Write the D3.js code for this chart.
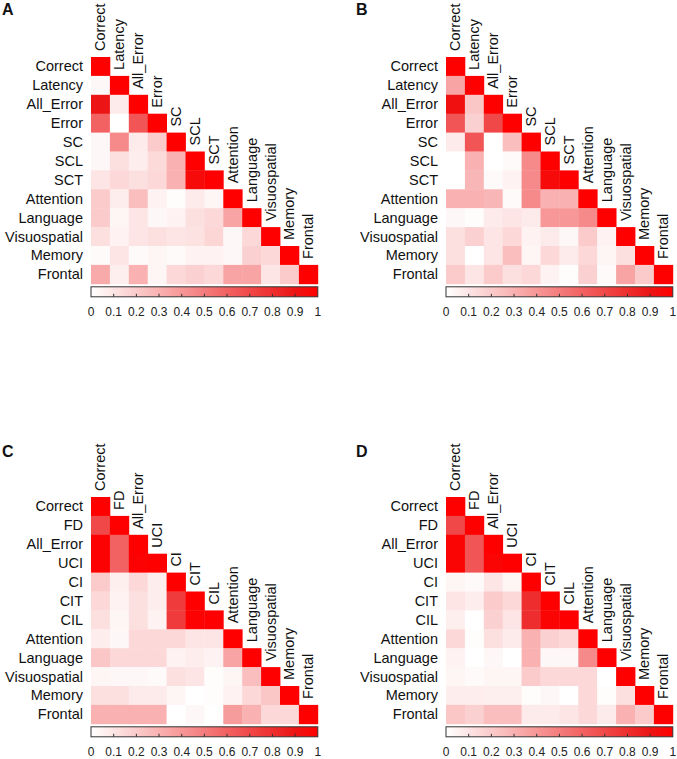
<!DOCTYPE html>
<html>
<head>
<meta charset="utf-8">
<script src="https://cdn.jsdelivr.net/npm/d3@7"></script>
<style>
  html, body { margin: 0; padding: 0; background: #fff; }
  svg { display: block; font-family: "Liberation Sans", Arial, sans-serif; }
</style>
</head>
<body>
<svg id="chart" width="677" height="759"></svg>
<script>
// ---------- DATA ----------
const varsAB = ["Correct", "Latency", "All_Error", "Error", "SC", "SCL", "SCT",
  "Attention", "Language", "Visuospatial", "Memory", "Frontal"];
const varsCD = ["Correct", "FD", "All_Error", "UCI", "CI", "CIT", "CIL",
  "Attention", "Language", "Visuospatial", "Memory", "Frontal"];

// lower-triangle rows (row i holds correlations with columns 0..i-1); diagonal = 1
const panelA = [
  [],
  [0.03],
  [0.90, 0.08],
  [0.60, 0.00, 0.65],
  [0.03, 0.45, 0.08, 0.20],
  [0.03, 0.12, 0.07, 0.14, 0.30],
  [0.10, 0.15, 0.12, 0.15, 0.30, 0.95],
  [0.20, 0.07, 0.25, 0.05, 0.01, 0.08, 0.04],
  [0.20, 0.04, 0.10, 0.03, 0.05, 0.12, 0.15, 0.35],
  [0.12, 0.05, 0.10, 0.12, 0.10, 0.11, 0.16, 0.03, 0.15],
  [0.02, 0.10, 0.02, 0.04, 0.02, 0.05, 0.05, 0.03, 0.18, 0.15],
  [0.33, 0.06, 0.30, 0.04, 0.15, 0.18, 0.15, 0.35, 0.35, 0.10, 0.20]
];
const panelB = [
  [],
  [0.35],
  [0.92, 0.22],
  [0.65, 0.18, 0.70],
  [0.08, 0.65, 0.00, 0.25],
  [0.00, 0.30, 0.00, 0.02, 0.45],
  [0.00, 0.28, 0.02, 0.05, 0.45, 0.95],
  [0.30, 0.30, 0.28, 0.02, 0.45, 0.30, 0.30],
  [0.03, 0.01, 0.08, 0.10, 0.08, 0.40, 0.40, 0.45],
  [0.12, 0.18, 0.10, 0.15, 0.05, 0.08, 0.03, 0.20, 0.05],
  [0.12, 0.00, 0.10, 0.25, 0.04, 0.15, 0.08, 0.15, 0.04, 0.12],
  [0.20, 0.10, 0.20, 0.12, 0.15, 0.05, 0.01, 0.18, 0.02, 0.35, 0.20]
];
const panelC = [
  [],
  [0.70],
  [0.99, 0.60],
  [0.99, 0.60, 0.99],
  [0.20, 0.06, 0.15, 0.07],
  [0.15, 0.05, 0.12, 0.07, 0.75],
  [0.12, 0.04, 0.12, 0.05, 0.75, 0.99],
  [0.07, 0.03, 0.15, 0.15, 0.15, 0.10, 0.10],
  [0.22, 0.15, 0.15, 0.15, 0.05, 0.07, 0.05, 0.35],
  [0.04, 0.03, 0.03, 0.02, 0.12, 0.10, 0.01, 0.04, 0.25],
  [0.12, 0.12, 0.08, 0.08, 0.04, 0.00, 0.01, 0.05, 0.15, 0.22],
  [0.30, 0.30, 0.30, 0.30, 0.00, 0.03, 0.00, 0.38, 0.30, 0.15, 0.15]
];
const panelD = [
  [],
  [0.70],
  [0.98, 0.65],
  [0.98, 0.65, 0.98],
  [0.04, 0.02, 0.10, 0.04],
  [0.10, 0.07, 0.20, 0.15, 0.80],
  [0.06, 0.00, 0.18, 0.10, 0.80, 0.98],
  [0.15, 0.01, 0.12, 0.08, 0.30, 0.18, 0.15],
  [0.05, 0.00, 0.03, 0.00, 0.30, 0.03, 0.03, 0.45],
  [0.04, 0.02, 0.04, 0.04, 0.20, 0.15, 0.15, 0.15, 0.00],
  [0.07, 0.07, 0.06, 0.06, 0.01, 0.03, 0.00, 0.15, 0.01, 0.12],
  [0.22, 0.18, 0.25, 0.25, 0.08, 0.08, 0.10, 0.15, 0.08, 0.30, 0.20]
];
const colorTicks = [0, 0.1, 0.2, 0.3, 0.4, 0.5, 0.6, 0.7, 0.8, 0.9, 1];
const panelLetters = ["A", "B", "C", "D"];

// ---------- DRAW ----------
const svg = d3.select("#chart");
const gridSize = 226.8;
const color = d3.scaleLinear()
  .domain([0, 0.9, 1])
  .range(["#ffffff", "#ec1414", "#ff0000"])
  .clamp(true);

const panels = [
  { letter: panelLetters[0], vars: varsAB, data: panelA, gx: 91, gy: 57, lx: 2, ly: 15 },
  { letter: panelLetters[1], vars: varsAB, data: panelB, gx: 446, gy: 57, lx: 356, ly: 15 },
  { letter: panelLetters[2], vars: varsCD, data: panelC, gx: 91, gy: 497, lx: 2, ly: 457 },
  { letter: panelLetters[3], vars: varsCD, data: panelD, gx: 446, gy: 497, lx: 356, ly: 457 }
];

// gradient for colorbar
const defs = svg.append("defs");
const grad = defs.append("linearGradient").attr("id", "cbar")
  .attr("x1", "0%").attr("x2", "100%").attr("y1", "0%").attr("y2", "0%");
d3.range(0, 1.0001, 0.05).forEach(t => {
  grad.append("stop").attr("offset", (t * 100) + "%").attr("stop-color", color(t));
});

panels.forEach(p => {
  svg.append("text")
    .attr("x", p.lx).attr("y", p.ly)
    .attr("font-size", 16).attr("font-weight", "bold")
    .attr("font-family", "Liberation Sans, Arial, sans-serif")
    .attr("fill", "#111")
    .text(p.letter);

  const g = svg.append("g").attr("transform", `translate(${p.gx},${p.gy})`);
  const x = d3.scaleBand().domain(p.vars).range([0, gridSize]);
  const y = d3.scaleBand().domain(p.vars).range([0, gridSize]);

  const cells = [];
  p.vars.forEach((rv, i) => {
    p.data[i].forEach((v, j) => cells.push({ r: rv, c: p.vars[j], v }));
    cells.push({ r: rv, c: rv, v: 1 });
  });

  g.selectAll("rect.cell").data(cells).join("rect")
    .attr("class", "cell")
    .attr("x", d => x(d.c))
    .attr("y", d => y(d.r))
    .attr("width", x.bandwidth() + 0.4)
    .attr("height", y.bandwidth() + 0.4)
    .attr("fill", d => color(d.v));

  // row labels
  g.selectAll("text.row").data(p.vars).join("text")
    .attr("class", "row")
    .attr("x", -8)
    .attr("y", d => y(d) + y.bandwidth() / 2)
    .attr("text-anchor", "end")
    .attr("dominant-baseline", "central")
    .attr("font-size", 14.5)
    .attr("fill", "#111")
    .text(d => d);

  // column labels (rotated, above diagonal)
  g.selectAll("text.col").data(p.vars).join("text")
    .attr("class", "col")
    .attr("transform", d => `translate(${x(d) + x.bandwidth() / 2},${y(d) - 6}) rotate(-90)`)
    .attr("text-anchor", "start")
    .attr("dominant-baseline", "central")
    .attr("font-size", 14.5)
    .attr("fill", "#111")
    .text(d => d);

  // colorbar
  const cbY = gridSize + 3, cbH = 10;
  const cx = d3.scaleLinear().domain([0, 1]).range([0, gridSize]);
  g.append("rect")
    .attr("x", 0).attr("y", cbY)
    .attr("width", gridSize).attr("height", cbH)
    .attr("fill", "url(#cbar)")
    .attr("stroke", "#333").attr("stroke-width", 1);
  g.selectAll("line.cbt").data(colorTicks.slice(1, -1)).join("line")
    .attr("class", "cbt")
    .attr("x1", d => cx(d)).attr("x2", d => cx(d))
    .attr("y1", cbY + cbH).attr("y2", cbY + cbH - 3)
    .attr("stroke", "#333").attr("stroke-width", 1);
  g.selectAll("text.cbl").data(colorTicks).join("text")
    .attr("class", "cbl")
    .attr("x", d => cx(d))
    .attr("y", cbY + cbH + 19)
    .attr("text-anchor", "middle")
    .attr("font-size", 12)
    .attr("fill", "#222")
    .text(d => String(d));
});
</script>
</body>
</html>
